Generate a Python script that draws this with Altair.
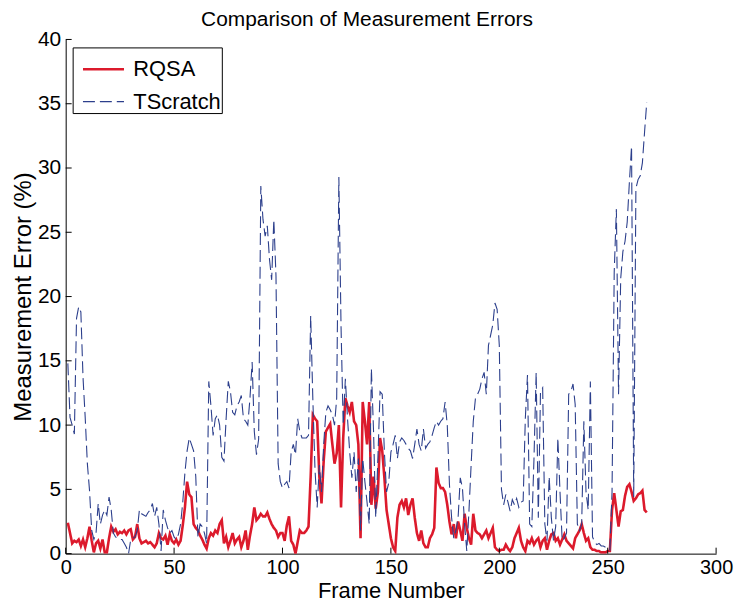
import altair as alt
import pandas as pd

# ---------------- data ----------------
frames = list(range(1, 269))

rqsa_values = [
    2.4, 1.6, 0.8, 1.0, 0.9, 1.1, 0.6, 1.1, 0.5, 1.2,
    2.1, 1.0, 0.1, 0.8, 1.0, 0.4, 1.1, 0.1, 0.1, 1.2,
    2.1, 1.7, 1.9, 1.5, 1.7, 1.6, 1.8, 1.5, 1.8, 1.9,
    1.1, 1.3, 2.3, 1.2, 0.8, 0.9, 1.0, 0.8, 0.9, 0.7,
    0.5, 0.8, 1.6, 1.2, 1.1, 1.4, 0.7, 1.5, 1.0, 0.8,
    1.1, 0.7, 1.0, 2.2, 3.6, 5.6, 4.6, 4.4, 2.3, 2.0,
    1.8, 1.4, 1.1, 0.7, 0.4, 1.2, 1.6, 1.4, 1.8, 1.6,
    2.3, 2.6, 0.8, 1.3, 0.5, 1.0, 1.6, 0.8, 1.1, 1.3,
    0.5, 1.0, 1.8, 0.3, 1.4, 2.3, 3.6, 2.6, 2.8, 3.1,
    2.9, 2.9, 3.2, 2.7, 2.3, 2.0, 1.8, 1.3, 1.6, 1.6,
    1.0, 2.2, 2.9, 1.0, 0.7, 0.0, 0.9, 1.8, 1.6, 1.6,
    1.8, 2.1, 6.0, 10.8, 10.5, 10.3, 6.0, 3.9, 7.2, 9.5,
    9.8, 10.1, 8.5, 7.0, 7.8, 10.0, 3.6, 9.0, 12.1, 11.5,
    11.0, 11.8, 10.3, 10.0, 8.5, 1.2, 11.8, 10.3, 8.5, 11.8,
    3.8, 6.0, 3.5, 4.8, 9.0, 8.0, 5.9, 3.4, 2.3, 1.2,
    0.5, 0.2, 2.8, 3.8, 4.1, 3.6, 4.3, 3.0, 3.8, 4.3,
    2.8, 1.6, 1.0, 1.8, 0.8, 0.5, 0.5, 1.2, 1.5, 2.0,
    6.7, 5.5, 5.1, 5.1, 4.8, 3.8, 2.5, 1.5, 2.3, 1.2,
    2.5, 1.8, 1.0, 3.1, 2.0, 1.2, 0.7, 3.1, 1.8, 1.6,
    1.5, 1.2, 1.5, 1.8, 1.2, 1.6, 2.0, 0.5, 0.3, 0.2,
    0.3, 0.3, 0.7, 0.4, 0.2, 0.5, 1.2, 1.6, 2.0, 1.0,
    0.5, 0.2, 1.0, 0.8, 1.2, 0.7, 1.0, 1.2, 0.5, 1.0,
    1.2, 0.3, 1.0, 1.5, 1.6, 1.0, 1.2, 0.7, 1.1, 1.5,
    1.0, 0.8, 0.6, 0.4, 1.2, 1.5, 1.8, 2.3, 1.6, 1.0,
    1.2, 0.5, 0.3, 0.3, 0.2, 0.2, 0.1, 0.1, 0.1, 0.2,
    0.2, 3.4, 4.7, 3.4, 2.1, 3.3, 3.4, 4.5, 5.2, 5.4,
    4.8, 4.1, 4.3, 4.6, 4.7, 4.9, 3.4, 3.2,
]

tscratch_values = [
    14.8, 10.6, 10.0, 9.3, 18.3, 19.2, 18.8, 13.7, 10.6, 7.0,
    4.9, 1.8, 1.1, 1.6, 3.9, 2.3, 3.0, 3.4, 3.0, 4.4,
    3.4, 1.6, 1.3, 1.2, 1.1, 1.1, 0.8, 0.5, 0.0, 1.1,
    1.2, 1.3, 1.8, 3.4, 3.1, 3.0, 2.9, 3.2, 3.4, 3.9,
    2.9, 3.6, 2.3, 0.2, 3.4, 2.6, 2.0, 1.6, 1.8, 1.3,
    1.1, 1.5, 2.3, 4.0, 6.3, 8.0, 9.0, 8.5, 8.0, 6.0,
    1.3, 2.3, 2.1, 1.6, 0.8, 13.4, 11.5, 9.2, 10.5, 10.8,
    10.0, 7.5, 7.2, 10.5, 13.4, 12.6, 11.0, 10.8, 11.5, 11.8,
    12.3, 10.5, 10.3, 10.0, 12.1, 14.9, 9.5, 7.7, 8.9, 28.6,
    26.0, 24.7, 25.5, 22.9, 21.3, 26.0, 21.6, 7.0, 5.6, 5.1,
    5.4, 5.6, 5.1, 7.9, 8.5, 7.7, 10.5, 9.5, 9.0, 9.0,
    9.0, 9.2, 18.5, 12.0, 6.5, 3.6, 6.9, 4.8, 8.5, 11.0,
    11.5, 11.2, 10.8, 10.0, 12.1, 29.3, 17.7, 10.0, 13.6, 10.5,
    7.9, 5.9, 7.9, 4.8, 7.4, 1.8, 7.4, 5.6, 4.0, 2.3,
    14.4, 9.5, 2.8, 7.4, 12.6, 12.4, 7.9, 4.8, 5.5, 7.9,
    8.5, 9.2, 7.4, 8.7, 9.0, 8.8, 8.5, 8.2, 8.0, 7.4,
    8.5, 9.7, 8.5, 8.0, 9.7, 8.2, 8.5, 8.7, 9.2, 9.8,
    10.3, 10.0, 10.3, 10.5, 11.8, 10.0, 5.4, 2.8, 1.2, 1.8,
    2.8, 5.9, 5.1, 2.3, 0.2, 3.3, 6.9, 10.3, 12.1, 12.4,
    12.8, 13.6, 14.1, 12.4, 16.2, 17.0, 17.8, 19.5, 19.0, 16.2,
    5.0, 3.8, 4.6, 4.0, 3.3, 4.2, 3.8, 4.3, 3.6, 4.0,
    4.1, 10.5, 13.9, 2.3, 2.1, 7.4, 14.1, 2.8, 12.6, 12.9,
    2.3, 1.0, 6.0, 2.8, 1.0, 2.1, 9.0, 4.8, 1.0, 1.2,
    1.6, 12.4, 12.6, 13.2, 11.6, 2.3, 1.8, 2.3, 10.3, 4.8,
    3.4, 13.4, 1.3, 0.9, 0.7, 0.8, 0.6, 0.6, 0.5, 0.5,
    0.3, 4.8, 21.9, 26.8, 12.4, 21.4, 23.5, 24.3, 25.8, 28.9,
    31.7, 4.4, 28.4, 29.1, 29.4, 30.4, 32.8, 35.1,
]

series_names = ["RQSA", "TScratch"]
x_ticks = [0, 50, 100, 150, 200, 250, 300]
y_ticks = [0, 5, 10, 15, 20, 25, 30, 35, 40]

# ---------------- build table ----------------
df = pd.concat([
    pd.DataFrame({"frame": frames, "error": rqsa_values, "method": "RQSA"}),
    pd.DataFrame({"frame": frames, "error": tscratch_values, "method": "TScratch"}),
], ignore_index=True)
df["order"] = range(len(df))

FONT = "Liberation Sans"
W, H = 654, 517

x_scale = alt.Scale(domain=[0, 300], nice=False)
y_scale = alt.Scale(domain=[0, 40], nice=False)

legend_cfg = dict(
    title=None, orient="none", legendX=7, legendY=8,
    strokeColor="black", fillColor="white", padding=0,
    symbolType="stroke", symbolSize=1700, symbolStrokeWidth=2,
    symbolOffset=9, labelOffset=8, rowPadding=-12,
    labelFontSize=22, labelFont=FONT, labelColor="black", cornerRadius=0,
)

lines = alt.Chart(df).mark_line(strokeJoin="miter", clip=True).encode(
    x=alt.X("frame:Q", scale=x_scale,
            axis=alt.Axis(title="Frame Number", values=x_ticks, ticks=False,
                          labelFontSize=20, titleFontSize=22, labelPadding=4,
                          labelFlush=False, titleY=44, titleBaseline="alphabetic",
                          labelFont=FONT, titleFont=FONT,
                          titleFontWeight="normal", domainColor="black",
                          labelColor="black", titleColor="black", grid=False)),
    y=alt.Y("error:Q", scale=y_scale,
            axis=alt.Axis(title="Measurement Error (%)", values=y_ticks, ticks=False,
                          labelFontSize=21, titleFontSize=24, labelPadding=5,
                          titlePadding=2, labelFont=FONT, titleFont=FONT,
                          titleFontWeight="normal", domainColor="black",
                          labelColor="black", titleColor="black", grid=False)),
    color=alt.Color("method:N",
                    scale=alt.Scale(domain=series_names, range=["#dc1a2c", "#2c3f8c"]),
                    legend=alt.Legend(**legend_cfg)),
    strokeDash=alt.StrokeDash("method:N",
                              scale=alt.Scale(domain=series_names, range=[[1, 0], [12, 5]]),
                              legend=alt.Legend(**legend_cfg)),
    strokeWidth=alt.StrokeWidth("method:N",
                                scale=alt.Scale(domain=series_names, range=[2.6, 1.1]),
                                legend=None),
    detail="method:N",
    order="order:Q",
)

# inward tick marks (MATLAB style)
xt = alt.Chart(pd.DataFrame({"t": x_ticks})).mark_rule(color="black", strokeWidth=1).encode(
    x=alt.X("t:Q", scale=x_scale), y=alt.value(H), y2=alt.value(H - 6)
)
yt = alt.Chart(pd.DataFrame({"t": y_ticks})).mark_rule(color="black", strokeWidth=1).encode(
    y=alt.Y("t:Q", scale=y_scale), x=alt.value(0), x2=alt.value(6)
)

chart = alt.layer(lines, xt, yt).properties(
    width=W, height=H,
    background="white",
    title=alt.TitleParams("Comparison of Measurement Errors", font=FONT, fontSize=21,
                          fontWeight="normal", color="black", offset=13, dx=-24, dy=14,
                          frame="group"),
    padding={"left": 58, "top": 30, "right": 20, "bottom": 49},
    autosize=alt.AutoSizeParams(type="none"),
).configure_view(strokeWidth=0, stroke="transparent")

chart.save("out.html", embed_options={"renderer": "svg", "actions": False})
